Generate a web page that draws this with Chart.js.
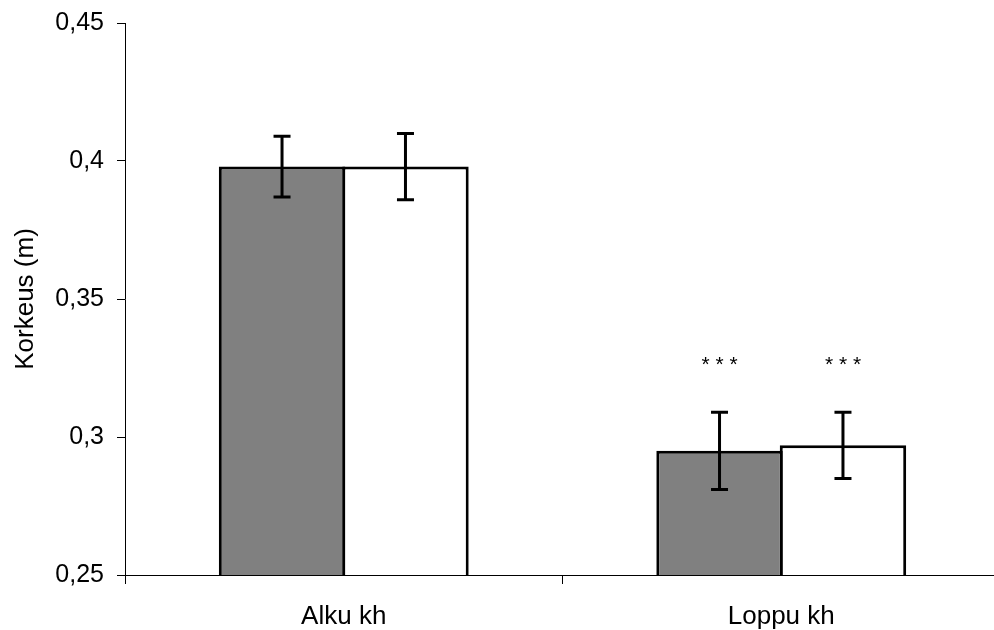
<!DOCTYPE html>
<html>
<head>
<meta charset="utf-8">
<script src="https://cdn.jsdelivr.net/npm/chart.js@4/dist/chart.umd.min.js"></script>
<style>
  html, body { margin: 0; padding: 0; background: #fff; overflow: hidden; width: 994px; height: 630px; }
  #wrap { width: 1010px; height: 630px; }
</style>
</head>
<body>
<div id="wrap"><canvas id="c" width="1010" height="630"></canvas></div>
<script>
// ---- Data ----
const categories = ['Alku kh', 'Loppu kh'];
const grayValues = [0.398, 0.295];
const grayErrLow = [0.387, 0.281];
const grayErrHigh = [0.409, 0.309];
const whiteValues = [0.398, 0.297];
const whiteErrLow = [0.386, 0.285];
const whiteErrHigh = [0.410, 0.309];
const grayMarks = ['', '* * *'];
const whiteMarks = ['', '* * *'];
const yTitle = 'Korkeus (m)';
const yMin = 0.25, yMax = 0.45, yStep = 0.05;

const FONT = "'Liberation Sans', Arial, sans-serif";

const errorBarPlugin = {
  id: 'errorBars',
  afterDatasetsDraw(chart) {
    const ctx = chart.ctx;
    const y = chart.scales.y;
    chart.data.datasets.forEach((ds, di) => {
      const meta = chart.getDatasetMeta(di);
      meta.data.forEach((bar, i) => {
        const lo = y.getPixelForValue(ds.errLow[i]);
        const hi = y.getPixelForValue(ds.errHigh[i]);
        const x = bar.x;
        ctx.save();
        ctx.strokeStyle = '#000';
        ctx.lineWidth = 3;
        ctx.beginPath();
        ctx.moveTo(x, lo); ctx.lineTo(x, hi);
        ctx.moveTo(x - 8.5, lo); ctx.lineTo(x + 8.5, lo);
        ctx.moveTo(x - 8.5, hi); ctx.lineTo(x + 8.5, hi);
        ctx.stroke();
        const mark = ds.marks[i];
        if (mark) {
          ctx.fillStyle = '#000';
          ctx.font = '21px ' + FONT;
          ctx.textAlign = 'center';
          ctx.textBaseline = 'middle';
          ctx.fillText(mark, x, hi - 47);
        }
        ctx.restore();
      });
    });
  }
};

new Chart(document.getElementById('c'), {
  type: 'bar',
  data: {
    labels: categories,
    datasets: [
      { data: grayValues, errLow: grayErrLow, errHigh: grayErrHigh, marks: grayMarks,
        backgroundColor: '#808080', borderColor: '#000', borderWidth: 3, borderSkipped: false },
      { data: whiteValues, errLow: whiteErrLow, errHigh: whiteErrHigh, marks: whiteMarks,
        backgroundColor: '#ffffff', borderColor: '#000', borderWidth: 3, borderSkipped: false }
    ]
  },
  options: {
    responsive: false,
    animation: false,
    devicePixelRatio: 1,
    layout: { padding: { top: 23, right: 10, bottom: 0, left: 0 } },
    plugins: { legend: { display: false }, tooltip: { enabled: false } },
    datasets: { bar: { barPercentage: 1.0243, categoryPercentage: 0.5643 } },
    scales: {
      x: {
        grid: { offset: true, drawOnChartArea: false, drawTicks: true, tickLength: 9, color: '#000', lineWidth: 1 },
        border: { display: true, color: '#000', width: 1 },
        ticks: { color: '#000', font: { family: FONT, size: 26 }, padding: 17, maxRotation: 0 },
        afterFit(s) { s.height = 55; s.paddingLeft = 0; s.paddingRight = 0; }
      },
      y: {
        min: yMin, max: yMax,
        grid: { drawOnChartArea: false, drawTicks: true, tickLength: 8, color: '#000', lineWidth: 1 },
        border: { display: true, color: '#000', width: 1 },
        ticks: {
          stepSize: yStep, color: '#000', font: { family: FONT, size: 25 }, padding: 13,
          callback: v => String(Math.round(v * 100) / 100).replace('.', ',')
        },
        title: { display: true, text: yTitle, color: '#000', font: { family: FONT, size: 26 }, padding: { top: 10, bottom: 0 } },
        afterFit(s) { s.width = 125; s.paddingTop = 0; s.paddingBottom = 0; }
      }
    }
  },
  plugins: [errorBarPlugin]
});
</script>
</body>
</html>
